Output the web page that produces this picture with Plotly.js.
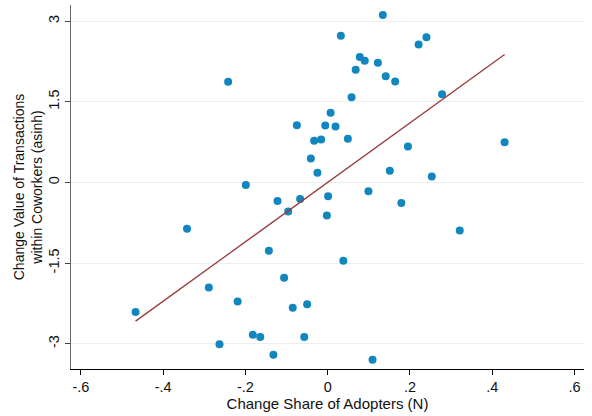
<!DOCTYPE html>
<html>
<head>
<meta charset="utf-8">
<script src="https://cdn.plot.ly/plotly-3.0.1.min.js"></script>
<style>html,body{margin:0;padding:0;background:#fff}#chart{width:592px;height:416px}</style>
</head>
<body>
<div id="chart"></div>
<script>
// Change in share of adopters (x) and change in transaction value (y)
var shareChange = [0.134, 0.032, 0.078, 0.090, 0.122, 0.068, 0.141, 0.164, 0.221, 0.240,
  0.278, 0.058, 0.007, -0.075, -0.006, 0.019, -0.242, -0.199, -0.033, -0.016,
  0.049, 0.195, -0.041, -0.025, 0.151, 0.253, 0.099, -0.122, -0.067, 0.001,
  -0.096, 0.179, -0.002, 0.430, -0.342, -0.143, -0.289, -0.219, -0.467, -0.106,
  -0.085, -0.050, -0.182, -0.164, -0.057, -0.263, -0.132, 0.038, 0.321, 0.109];
var valueChange = [3.116, 2.726, 2.335, 2.261, 2.224, 2.094, 1.977, 1.878, 2.566, 2.702,
  1.642, 1.586, 1.294, 1.065, 1.060, 1.041, 1.871, -0.050, 0.774, 0.800,
  0.811, 0.669, 0.446, 0.179, 0.219, 0.112, -0.162, -0.344, -0.307, -0.255,
  -0.539, -0.381, -0.614, 0.749, -0.863, -1.272, -1.952, -2.213, -2.412, -1.774,
  -2.332, -2.268, -2.834, -2.877, -2.877, -3.012, -3.206, -1.458, -0.893, -3.299];
// Linear fit endpoints
var fitX = [-0.467, 0.430];
var fitY = [-2.58, 2.38];
var xTicks = [-0.6, -0.4, -0.2, 0, 0.2, 0.4, 0.6];
var xTickLabels = ['-.6', '-.4', '-.2', '0', '.2', '.4', '.6'];
var yTicks = [-3, -1.5, 0, 1.5, 3];
var yTickLabels = ['-3', '-1.5', '0', '1.5', '3'];

var traces = [
  {x: shareChange, y: valueChange, type: 'scatter', mode: 'markers',
   marker: {color: '#1186bf', size: 8, line: {width: 0}}, hoverinfo: 'x+y'},
  {x: fitX, y: fitY, type: 'scatter', mode: 'lines',
   line: {color: '#983a3c', width: 1.3}}
];
var font = {family: 'Liberation Sans, Arial, sans-serif', size: 14, color: '#111'};
var layout = {
  width: 592, height: 416,
  margin: {l: 71, r: 8, t: 5, b: 47},
  paper_bgcolor: '#fff', plot_bgcolor: '#fff',
  showlegend: false,
  font: font,
  xaxis: {
    range: [-0.624, 0.623], tickmode: 'array', tickvals: xTicks, ticktext: xTickLabels,
    showgrid: false, zeroline: false, showline: true, linecolor: '#000', linewidth: 1,
    ticks: 'outside', ticklen: 5, tickcolor: '#000', tickfont: {size: 14.5},
    title: {text: 'Change Share of Adopters (N)', font: {size: 15}, standoff: 2}
  },
  yaxis: {
    range: [-3.47, 3.30], tickmode: 'array', tickvals: yTicks, ticktext: yTickLabels,
    showgrid: true, gridcolor: '#eaf0f0', gridwidth: 1, zeroline: false,
    showline: true, linecolor: '#666', linewidth: 1,
    ticks: 'outside', ticklen: 5, tickcolor: '#444', tickangle: -90, tickfont: {size: 14.5},
    title: {text: 'Change Value of Transactions<br>within Coworkers (asinh)', font: {size: 14}, standoff: 0}
  }
};
Plotly.newPlot('chart', traces, layout, {displayModeBar: false, staticPlot: true});
</script>
</body>
</html>
